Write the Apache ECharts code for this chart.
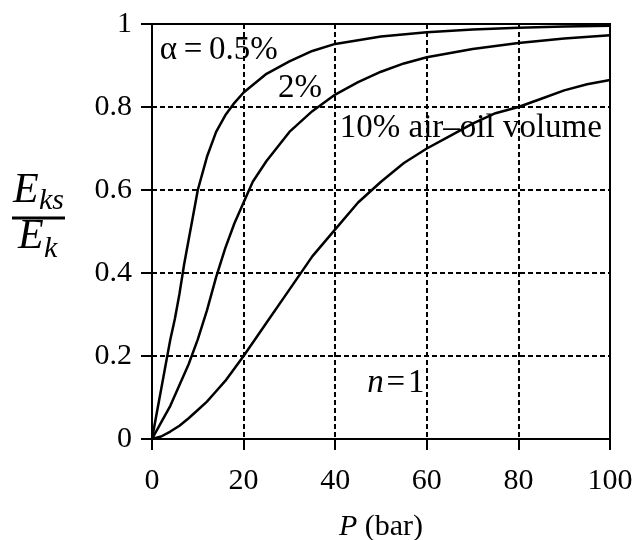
<!DOCTYPE html>
<html><head><meta charset="utf-8">
<script src="https://cdn.jsdelivr.net/npm/echarts@6/dist/echarts.min.js"></script>
<style>html,body{margin:0;padding:0;background:#fff}#c{width:633px;height:540px}</style>
</head><body><div id="c"></div>
<script>
// Data (P in bar, E_ks/E_k)
const pressure05 = [0,1,2,3,4,5,6,7,8,9,10,12,14,16,18,20,25,30,35,40,50,60,70,80,90,100];
const ratio05    = [0,0.06,0.12,0.18,0.24,0.29,0.35,0.42,0.48,0.54,0.60,0.68,0.74,0.78,0.81,0.835,0.88,0.91,0.935,0.952,0.97,0.98,0.987,0.991,0.994,0.996];
const pressure2  = [0,2,4,6,8,10,12,14,16,18,20,22,25,30,35,40,45,50,55,60,70,80,90,100];
const ratio2     = [0,0.04,0.08,0.13,0.18,0.24,0.31,0.39,0.46,0.52,0.57,0.62,0.67,0.74,0.79,0.83,0.86,0.885,0.905,0.92,0.94,0.954,0.965,0.973];
const pressure10 = [0,2,4,6,8,10,12,14,16,18,20,25,30,35,40,45,50,55,60,65,70,75,80,85,90,95,100];
const ratio10    = [0,0.006,0.018,0.032,0.05,0.07,0.09,0.115,0.14,0.17,0.2,0.28,0.36,0.44,0.505,0.57,0.62,0.665,0.70,0.73,0.76,0.785,0.80,0.82,0.84,0.855,0.865];
const xTicks = [0,20,40,60,80,100];
const yTicks = [0,0.2,0.4,0.6,0.8,1];
const annotations = [
  {text:'α\u2009=\u20090.5%', x:1.7, y:0.937},
  {text:'2%', x:27.5, y:0.846},
  {text:'10% air–oil volume', x:41, y:0.749},
  {rich:true, x:47, y:0.135}
];

const zip = (a,b)=>a.map((v,i)=>[v,b[i]]);
const chart = echarts.init(document.getElementById('c'));
const FONT = '"Liberation Serif", "Times New Roman", serif';
const lineSeries = (d)=>({type:'line', data:d, showSymbol:false, symbol:'none', smooth:false,
  lineStyle:{color:'#000', width:2.5}, z:3});
chart.setOption({
  animation:false,
  backgroundColor:'#fff',
  grid:{left:152, right:23, top:24, bottom:101, containLabel:false, outerBoundsMode:'none',
    show:true, borderColor:'#000', borderWidth:2, backgroundColor:'transparent'},
  xAxis:{type:'value', min:0, max:100, interval:20,
    axisLine:{show:true, onZero:false, lineStyle:{color:'#000', width:2}},
    axisTick:{show:true, length:11, lineStyle:{color:'#000', width:2}},
    axisLabel:{color:'#000', fontFamily:FONT, fontSize:30, margin:27},
    splitLine:{show:true, lineStyle:{color:'#000', width:2, type:[5,3]}},
    name:'{i|P} (bar)', nameLocation:'middle', nameGap:73,
    nameTextStyle:{color:'#000', fontFamily:FONT, fontSize:30,
      rich:{i:{fontStyle:'italic', fontFamily:FONT, fontSize:30, color:'#000'}}}
  },
  yAxis:{type:'value', min:0, max:1, interval:0.2,
    axisLine:{show:true, onZero:false, lineStyle:{color:'#000', width:2}},
    axisTick:{show:true, length:11, lineStyle:{color:'#000', width:2}},
    axisLabel:{color:'#000', fontFamily:FONT, fontSize:30, margin:20,
      formatter:(v)=>yTicks.some(t=>Math.abs(t-v)<1e-9)?String(+v.toFixed(1)):''},
    splitLine:{show:true, lineStyle:{color:'#000', width:2, type:[5,3]}}
  },
  series:[lineSeries(zip(pressure05,ratio05)), lineSeries(zip(pressure2,ratio2)), lineSeries(zip(pressure10,ratio10))]
});

const g = [];
annotations.forEach(a=>{
  const p = chart.convertToPixel({gridIndex:0}, [a.x, a.y]);
  if (a.rich) {
    g.push({type:'text', x:p[0], y:p[1], style:{text:'{i|n}\u200A=\u200A1', fill:'#000', font:'33px '+FONT,
      verticalAlign:'middle', align:'left',
      rich:{i:{fontStyle:'italic', fontFamily:FONT, fontSize:33, fill:'#000'}}}, z:10});
  } else {
    g.push({type:'text', x:p[0], y:p[1], style:{text:a.text, fill:'#000', font:'33px '+FONT,
      verticalAlign:'middle', align:'left'}, z:10});
  }
});
// y axis title as fraction E_ks / E_k
g.push({type:'text', x:13, y:212, style:{text:'E', fill:'#000', font:'italic 42px '+FONT, verticalAlign:'bottom', align:'left'}});
g.push({type:'text', x:39, y:216, style:{text:'ks', fill:'#000', font:'italic 30px '+FONT, verticalAlign:'bottom', align:'left'}});
g.push({type:'line', shape:{x1:12, y1:218, x2:65, y2:218}, style:{stroke:'#000', lineWidth:3}});
g.push({type:'text', x:18, y:258, style:{text:'E', fill:'#000', font:'italic 42px '+FONT, verticalAlign:'bottom', align:'left'}});
g.push({type:'text', x:44, y:264, style:{text:'k', fill:'#000', font:'italic 30px '+FONT, verticalAlign:'bottom', align:'left'}});
chart.setOption({graphic:g});
</script></body></html>
